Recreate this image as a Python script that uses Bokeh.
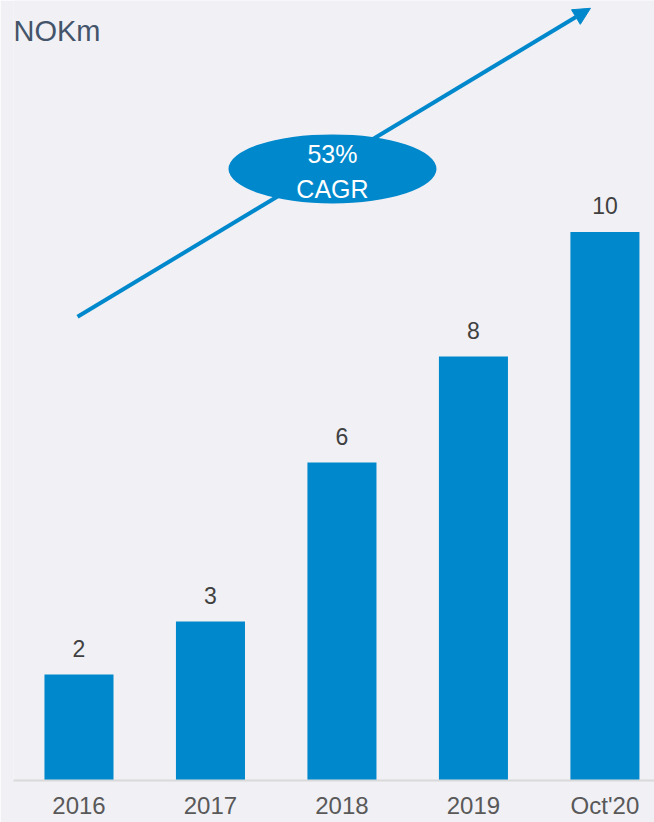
from bokeh.plotting import figure
from bokeh.models import (ColumnDataSource, Range1d, FixedTicker, Label, Arrow,
                          NormalHead)
from bokeh.core.properties import value
from bokeh.embed import file_html
from bokeh.resources import INLINE

# ---- data ----
categories = ["2016", "2017", "2018", "2019", "Oct'20"]
revenue = [2.0, 3.0, 6.0, 8.0, 10.35]
value_labels = ["2", "3", "6", "8", "10"]
unit_label = "NOKm"
cagr_label = "53%\nCAGR"

BLUE = "#0088CC"
BG = "#F0F0F5"
FONT = "Liberation Sans"

xs = list(range(len(categories)))
src = ColumnDataSource(dict(x=xs, top=revenue, lab=value_labels, cat=categories))

p = figure(width=654, height=822, output_backend="svg", toolbar_location=None,
           x_range=Range1d(-0.498, 4.377), y_range=Range1d(0, 14.717),
           min_border_left=13, min_border_right=0, min_border_top=0,
           min_border_bottom=42)
p.background_fill_color = BG
p.border_fill_color = BG
p.outline_line_color = None
p.grid.visible = False
p.yaxis.visible = False

ax = p.xaxis[0]
ax.ticker = FixedTicker(ticks=xs)
ax.major_label_overrides = {i: c for i, c in zip(xs, categories)}
ax.major_label_text_font = FONT
ax.major_label_text_font_size = "24px"
ax.major_label_text_color = "#595959"
ax.major_label_standoff = 11
ax.major_tick_out = 0
ax.major_tick_in = 0
ax.major_tick_line_color = None
ax.minor_tick_line_color = None
ax.axis_line_color = "#D9D9D9"
ax.axis_line_width = 2

# bars
p.vbar(x="x", top="top", width=0.525, bottom=0, source=src,
       fill_color=BLUE, line_color=None)

# value labels
p.text(x="x", y="top", text="lab", source=src, text_align="center",
       text_baseline="bottom", y_offset=-18, text_font=value(FONT),
       text_font_size="23px", text_color="#404040")

# CAGR arrow (drawn beneath the ellipse)
p.add_layout(Arrow(end=NormalHead(size=17, fill_color=BLUE, line_color=BLUE),
                   x_start=-0.011, y_start=8.75, x_end=3.89, y_end=14.57,
                   line_color=BLUE, line_width=4, level="underlay"))

# CAGR ellipse + text
p.ellipse(x=[1.928], y=[11.54], width=[208], height=[69],
          width_units="screen", height_units="screen",
          fill_color=BLUE, line_color=None)
p.text(x=[1.928], y=[11.49], text=[cagr_label], text_align="center",
       text_baseline="middle", text_font=value(FONT), text_font_size="25px",
       text_color="white", text_line_height=1.25)

# unit label
p.add_layout(Label(x=-0.498, y=14.14, text=unit_label, text_font=FONT,
                   text_font_size="29px", text_color="#44546A",
                   text_baseline="alphabetic", text_align="left"))

open("out.html", "w").write(file_html(p, INLINE))
